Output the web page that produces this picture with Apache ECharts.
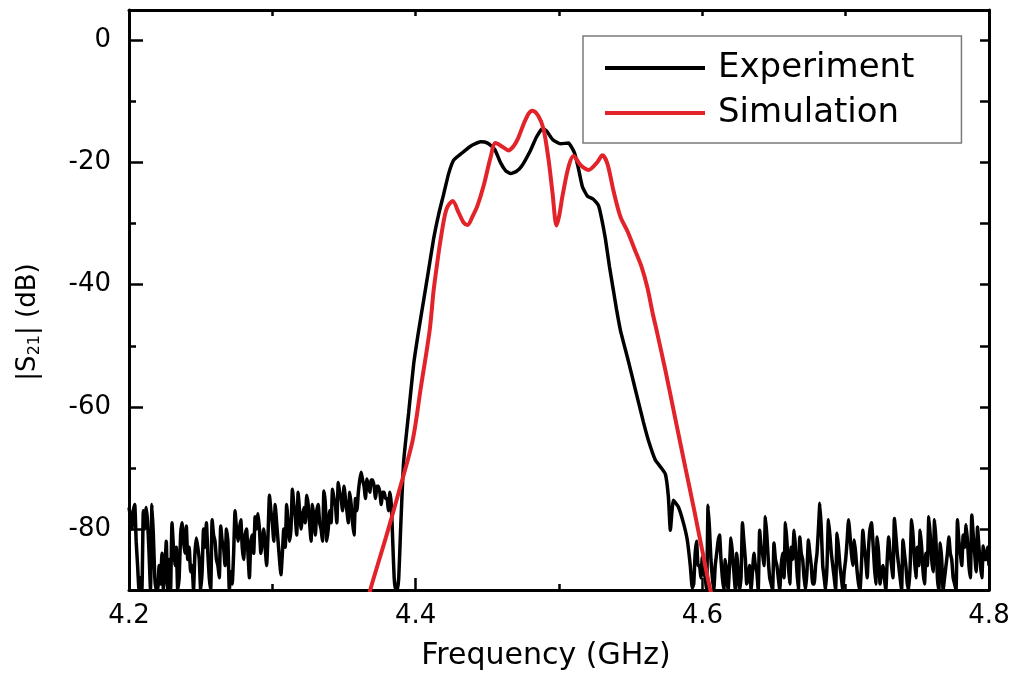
<!DOCTYPE html>
<html><head><meta charset="utf-8">
<script src="https://cdn.jsdelivr.net/npm/echarts@6/dist/echarts.min.js"></script>
<style>html,body{margin:0;padding:0;background:#fff}#c{width:1015px;height:673px}</style>
</head><body><div id="c"></div><script>
// ---- tick values ----
const xTicks = [4.2, 4.4, 4.6, 4.8];
const xMinorTicks = [4.3, 4.5, 4.7];
const xTopTicks = [4.2, 4.3, 4.4, 4.5, 4.6, 4.7, 4.8];
const yTicks = [0, -20, -40, -60, -80];
const yMinorTicks = [-10, -30, -50, -70];
const yRightTicks = [0, -10, -20, -30, -40, -50, -60, -70, -80];

// ---- Experiment: low-frequency noise floor (uniform sweep grid, 4.200 .. 4.386 GHz) ----
const expStep = 0.001;
const expLowStart = 4.200;
const expLowValues = [
 -76.5,-78,-80,-77,-76,-82,-86,-90,-88,-90,
 -77,-80,-76.5,-79,-84,-90,-76,-81,-88,-90,
 -90,-86,-89,-84,-90,-87,-82,-90,-85,-90,
 -79,-83,-86,-83,-90,-88,-81,-79,-82,-84,
 -79.5,-85,-83,-87,-86,-90,-84,-81.5,-83,-85,
 -90,-87,-80,-83,-79,-84,-88,-90,-78.5,-81,
 -82,-85,-86,-88,-79.5,-82,-83,-86,-80,-82,
 -90,-87,-89,-84,-77,-80,-82,-80,-78.5,-83,
 -85,-81,-80,-84,-88,-82,-81,-84,-78,-80,
 -77.5,-80,-84,-82,-80,-83,-86,-81,-74.5,-77,
 -79,-82,-76,-79,-82,-85,-87.5,-84,-80,-83,
 -76,-79,-82,-80,-73.5,-76,-78,-81,-74,-77,
 -80,-78,-76.5,-79,-74.5,-76,-79,-82,-76,-78,
 -81,-77,-76,-79,-80,-82,-73.8,-76,-82,-80,
 -77,-79,-73.5,-75,-76,-79,-72.4,-74,-75,-77,
 -73,-75,-77,-79,-74,-76,-79,-81,-75,-77,
 -74,-72,-70.7,-72,-73,-75,-71.8,-73,-74,-72,
 -72,-73,-75,-73,-73,-74,-76,-74,-74,-75,
 -75,-77,-74,-76,-82,-88,-90
];
// ---- Experiment: passband ----
const expBandFreq = [
 4.3871,4.3882,4.3895,4.3916,4.3951,4.3986,4.4021,4.4056,4.4084,4.4125,
 4.4160,4.4195,4.4230,4.4265,4.4314,4.4383,4.4453,4.4502,4.4551,4.4592,
 4.4627,4.4662,4.4704,4.4739,4.4801,4.4843,4.4885,4.4913,4.4955,4.5010,
 4.5066,4.5108,4.5136,4.5164,4.5199,4.5240,4.5275,4.5296,4.5324,4.5352,
 4.5380,4.5401,4.5429,4.5484,4.5533,4.5589,4.5624,4.5672,4.5707,4.5742,
 4.5763,4.5777,4.5798,4.5833,4.5868,4.5895,4.5916,4.5930
];
const expBandValues = [
 -90,-88,-80,-69,-61,-53,-47.5,-42.5,-38.5,-32.5,
 -28.5,-25.2,-21.8,-19.6,-18.6,-17.3,-16.6,-16.8,-17.8,-20,
 -21.3,-21.8,-21.4,-20.6,-18,-15.8,-14.4,-14.8,-16.2,-16.9,
 -16.8,-18.4,-21,-24,-25.5,-26,-27,-29,-32.5,-37,
 -41,-44,-47.5,-52.5,-57.2,-62.5,-65.5,-68.7,-69.8,-71,
 -74.7,-80.2,-75.3,-76.4,-79,-81.8,-86,-89.7
];
// ---- Experiment: high-frequency noise floor (uniform sweep grid, 4.594 .. 4.800 GHz) ----
const expHighStart = 4.594;
const expHighValues = [
 -89,-84,-82,-86,-86,-88,-84.6,-87,-88,-90,
 -76.1,-80,-85,-88,-90,-86,-84,-82,-81,-85,
 -88,-90,-85,-87,-90,-86,-81.5,-84,-87,-90,
 -84,-87,-90,-88,-79,-82,-85,-89,-88,-86,
 -90,-87,-84,-86,-87,-90,-80.2,-83,-84,-86,
 -78,-81,-85,-88,-89,-90,-82.3,-85,-86,-88,
 -90,-86,-84,-88,-79,-82,-86,-89,-83,-85,
 -80.2,-83,-87,-90,-81.3,-84,-85,-88,-90,-87,
 -81.8,-84,-86,-89,-89,-86,-84,-80,-75.8,-80,
 -86,-88,-90,-86,-78.5,-81,-84,-86,-88,-90,
 -80.7,-83,-86,-88,-90,-87,-85,-82,-78.5,-81,
 -84,-86,-81.8,-84,-87,-89,-90,-86,-80.2,-83,
 -85,-88,-83,-80,-79,-82,-86,-89,-81.3,-84,
 -89,-87,-86,-88,-90,-85,-81.3,-84,-86,-88,
 -78.3,-81,-84,-86,-88,-90,-81.8,-84,-86,-89,
 -90,-86,-78.5,-81,-85,-88,-83,-86,-80.2,-83,
 -87,-89,-84,-86,-78,-81,-85,-87,-78.5,-82,
 -88,-90,-82.3,-85,-90,-88,-86,-84,-81.3,-84,
 -85,-88,-89,-90,-78.5,-82,-84,-86,-81,-83,
 -79.3,-82,-86,-88,-77.7,-81,-84,-87,-79.7,-83,
 -86,-88,-82.8,-85,-85,-83,-86
];
// ---- Simulation ----
const simFreq = [
 4.3659,4.3700,4.3791,4.3882,4.3979,4.4035,4.4098,4.4125,4.4153,4.4174,
 4.4202,4.4223,4.4258,4.4300,4.4334,4.4362,4.4397,4.4432,4.4474,4.4523,
 4.4557,4.4606,4.4648,4.4683,4.4711,4.4753,4.4787,4.4815,4.4857,4.4892,
 4.4927,4.4955,4.4983,4.5003,4.5024,4.5066,4.5101,4.5150,4.5206,4.5268,
 4.5303,4.5338,4.5380,4.5429,4.5477,4.5533,4.5575,4.5617,4.5652,4.5686,
 4.5742,4.5812,4.5882,4.5944,4.6000,4.6056,4.6084
];
const simValues = [
 -92,-88.6,-81.5,-74,-65.5,-57,-47.4,-41,-36,-32.6,
 -28.8,-27.2,-26.3,-28.2,-29.8,-30.2,-28.8,-27,-23.8,-19.1,
 -16.8,-17.4,-18,-17.3,-16.2,-13.7,-12,-11.5,-12.4,-14.5,
 -19.5,-25,-30.3,-28.5,-25.5,-20.7,-18.9,-20.4,-21.2,-19.9,
 -18.8,-20.2,-24.6,-28.9,-31.2,-34.5,-37,-40.5,-44.5,-48,
 -54,-62,-70,-77,-83.6,-90,-92
];

// ---- build series data ----
const expData = [];
expLowValues.forEach((v, i) => expData.push([+(expLowStart + i * expStep).toFixed(4), v]));
expBandFreq.forEach((f, i) => expData.push([f, expBandValues[i]]));
expHighValues.forEach((v, i) => expData.push([+(expHighStart + i * expStep).toFixed(4), v]));
const simData = simFreq.map((f, i) => [f, simValues[i]]);

const FONT = 'DejaVu Sans';
const BLACK = '#000';
const RED = '#e3232a';
const frame = { show: true, onZero: false, lineStyle: { color: BLACK, width: 3 } };
const tickLine = { color: BLACK, width: 2.5 };

const chart = echarts.init(document.getElementById('c'), null, { renderer: 'canvas' });
chart.setOption({
  animation: false,
  backgroundColor: '#fff',
  grid: { left: 129, right: 26, top: 10, bottom: 83, containLabel: false, outerBoundsMode: 'none' },
  legend: {
    left: 583, top: 36, orient: 'vertical',
    padding: [15, 47, 13, 22],
    itemGap: 11, itemWidth: 100, itemHeight: 4,
    borderColor: '#7a7a7a', borderWidth: 1.5,
    icon: 'rect',
    textStyle: { fontFamily: FONT, fontSize: 34, lineHeight: 34, color: BLACK, padding: [0, 0, 0, 8] },
    data: ['Experiment', 'Simulation']
  },
  xAxis: [
    {
      type: 'value', min: 4.2, max: 4.8, position: 'bottom',
      name: 'Frequency (GHz)', nameLocation: 'middle', nameGap: 51,
      nameTextStyle: { fontFamily: FONT, fontSize: 30, color: BLACK, padding: [0, 26, 0, 0] },
      axisLine: frame,
      axisTick: { show: true, inside: true, length: 12, lineStyle: tickLine, customValues: xTicks },
      axisLabel: { show: true, customValues: xTicks, margin: 13, fontFamily: FONT, fontSize: 26, color: BLACK,
                   formatter: v => v.toFixed(1) },
      splitLine: { show: false }
    },
    {
      type: 'value', min: 4.2, max: 4.8, position: 'bottom',
      axisLine: { show: false, onZero: false },
      axisTick: { show: true, inside: true, length: 6, lineStyle: tickLine, customValues: xMinorTicks },
      axisLabel: { show: false }, splitLine: { show: false }
    },
    {
      type: 'value', min: 4.2, max: 4.8, position: 'top',
      axisLine: frame,
      axisTick: { show: true, inside: true, length: 6, lineStyle: tickLine, customValues: xTopTicks },
      axisLabel: { show: false }, splitLine: { show: false }
    }
  ],
  yAxis: [
    {
      type: 'value', min: -90, max: 5, position: 'left',
      name: '|S{sub|21}| (dB)', nameLocation: 'middle', nameGap: 86, nameRotate: 90,
      nameTextStyle: { fontFamily: FONT, fontSize: 26, color: BLACK, lineHeight: 30, padding: [0, 44, 0, 0],
        rich: { sub: { fontFamily: FONT, fontSize: 16, color: BLACK, lineHeight: 10, verticalAlign: 'bottom' } } },
      axisLine: frame,
      axisTick: { show: true, inside: true, length: 14, lineStyle: tickLine, customValues: yTicks },
      axisLabel: { show: true, customValues: yTicks, margin: 18, fontFamily: FONT, fontSize: 26, color: BLACK },
      splitLine: { show: false }
    },
    {
      type: 'value', min: -90, max: 5, position: 'left',
      axisLine: { show: false, onZero: false },
      axisTick: { show: true, inside: true, length: 7, lineStyle: tickLine, customValues: yMinorTicks },
      axisLabel: { show: false }, splitLine: { show: false }
    },
    {
      type: 'value', min: -90, max: 5, position: 'right',
      axisLine: frame,
      axisTick: { show: true, inside: true, length: 9, lineStyle: tickLine, customValues: yRightTicks },
      axisLabel: { show: false }, splitLine: { show: false }
    }
  ],
  series: [
    {
      name: 'Experiment', type: 'line', xAxisIndex: 0, yAxisIndex: 0,
      data: expData, showSymbol: false, symbol: 'none', smooth: 0.15,
      lineStyle: { color: BLACK, width: 3.5 }, itemStyle: { color: BLACK }, clip: true, z: 2
    },
    {
      name: 'Simulation', type: 'line', xAxisIndex: 0, yAxisIndex: 0,
      data: simData, showSymbol: false, symbol: 'none', smooth: 0.3,
      lineStyle: { color: RED, width: 4 }, itemStyle: { color: RED }, clip: true, z: 3
    }
  ]
});
</script></body></html>
